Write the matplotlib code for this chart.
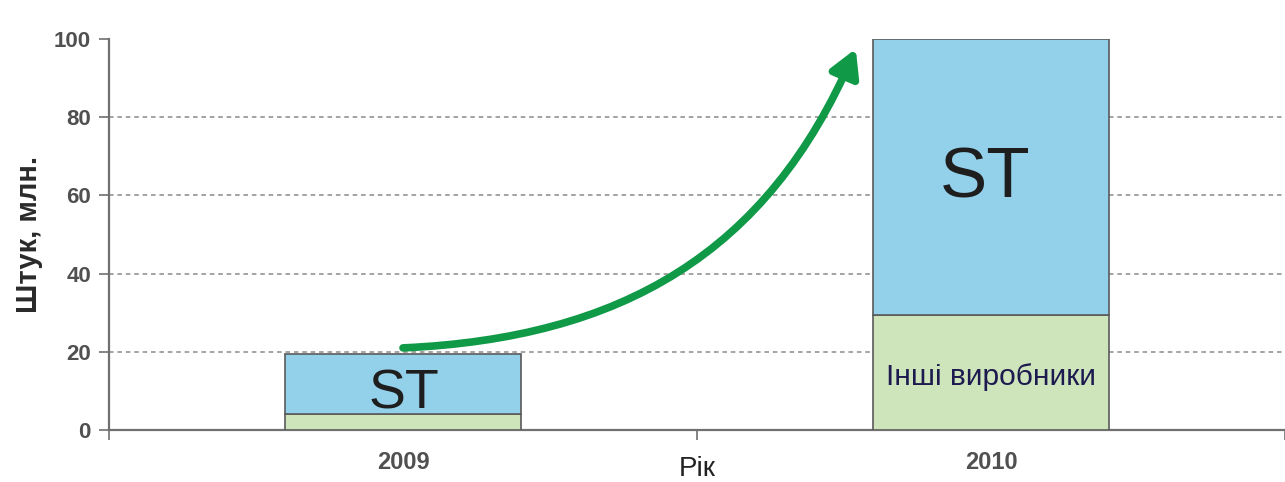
import matplotlib
matplotlib.use("Agg")
import matplotlib.pyplot as plt
from matplotlib.patches import FancyArrowPatch
from matplotlib.path import Path

years = ["2009", "2010"]
others = [4.0, 29.5]        # Інші виробники
st = [15.5, 70.5]           # ST
st_label = "ST"
others_label = "Інші виробники"
y_ticks = [0, 20, 40, 60, 80, 100]
y_label = "Штук, млн."
x_label = "Рік"
# growth arrow (data coords): start, control1, control2, end
arrow_pts = [(0.50, 21.0), (0.87, 23.5), (1.12, 45.0), (1.27, 97.5)]

W, H = 1285, 482
fig = plt.figure(figsize=(W / 100, H / 100), dpi=100)
ax = fig.add_axes([109 / W, 1 - 430 / H, 1 - 109 / W, (430 - 39) / H])

blue = "#93d0ea"
green = "#cee4bb"
edge = "#5a5a5a"

xpos = [0.5, 1.5]
bw = 0.4
ax.bar(xpos, others, width=bw, color=green, edgecolor=edge, linewidth=1.2, zorder=3)
ax.bar(xpos, st, width=bw, bottom=others, color=blue, edgecolor=edge, linewidth=1.2, zorder=3)

ax.set_xlim(0, 1.968)
ax.set_ylim(0, 100)

for yv in y_ticks[1:-1]:
    ax.axhline(yv, color="#8a8a8a", linestyle=(0, (3, 2.5)), linewidth=1.1, zorder=1)

for s in ["top", "right"]:
    ax.spines[s].set_visible(False)
for s in ["left", "bottom"]:
    ax.spines[s].set_color("#707070")
    ax.spines[s].set_linewidth(1.6)

ax.set_yticks(y_ticks)
ax.set_yticklabels([str(v) for v in y_ticks], fontsize=16, fontweight="bold",
                   family="Liberation Sans", color="#505050")
ax.tick_params(axis="y", length=7, width=1.2, color="#707070", pad=6)

ax.set_xticks([0, 1, 2])
ax.set_xticklabels(["", "", ""])
ax.tick_params(axis="x", which="major", length=7, width=1.2, color="#707070")
ax.set_xticks(xpos, minor=True)
ax.set_xticklabels(years, minor=True, fontsize=17, fontweight="bold",
                   family="Liberation Sans", color="#505050")
ax.tick_params(axis="x", which="minor", length=0, pad=15)

ax.set_ylabel(y_label, fontsize=21, fontweight="bold", family="Liberation Sans",
              color="#2a2a2a", labelpad=8)
ax.text(1.0, -0.10, x_label, transform=ax.get_xaxis_transform(), ha="center", va="center",
        fontsize=20, family="Liberation Sans", color="#222222")

ax.text(xpos[0] + 0.002, others[0] + 5.0, st_label, ha="center", va="center", fontsize=40,
        family="Liberation Sans", color="#1e1e1e", zorder=5)
ax.text(xpos[1] - 0.01, 64, st_label, ha="center", va="center", fontsize=51,
        family="Liberation Sans", color="#1e1e1e", zorder=5)
ax.text(xpos[1], 13.5, others_label, ha="center", va="center", fontsize=21.5,
        family="Liberation Sans", color="#1c1a4e", zorder=5)

path = Path(arrow_pts, [Path.MOVETO, Path.CURVE4, Path.CURVE4, Path.CURVE4])
arr = FancyArrowPatch(path=path, arrowstyle="-|>,head_length=16,head_width=9",
                      color="#109a48", linewidth=5.5, zorder=6, mutation_scale=1)
ax.add_patch(arr)

fig.savefig("out.png", dpi=100)
